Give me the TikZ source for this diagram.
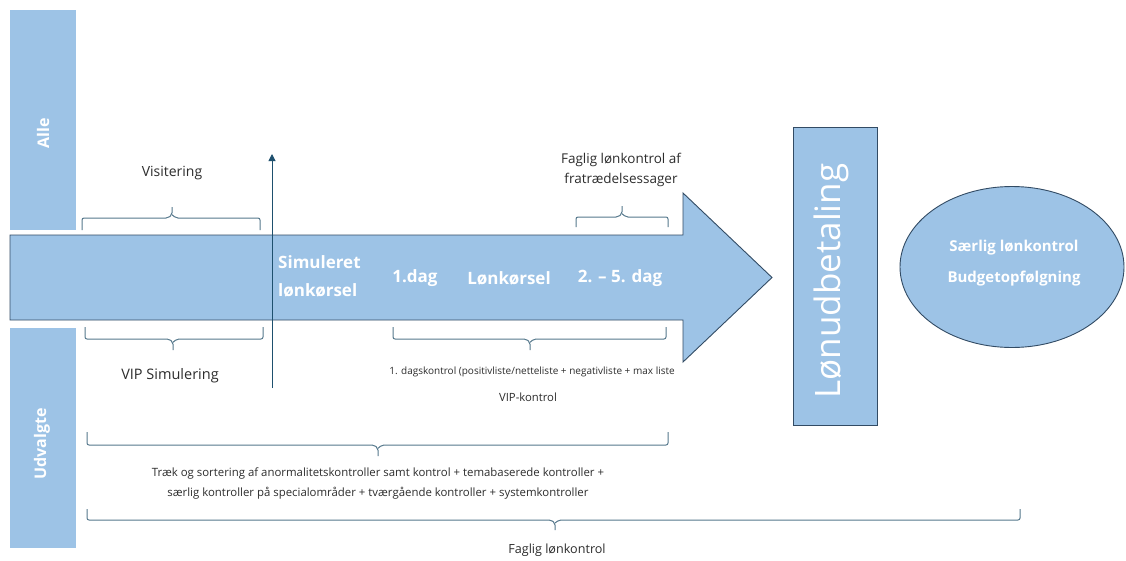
\documentclass[tikz,border=0pt]{standalone}
\usepackage{fontspec}
\setmainfont{Open Sans}
\usetikzlibrary{arrows.meta,shapes.geometric}
\definecolor{fillblue}{RGB}{157,195,230}
\definecolor{edgec}{RGB}{50,75,100}
\definecolor{bracec}{RGB}{85,120,140}
\definecolor{varrowc}{RGB}{30,80,110}
\definecolor{txtc}{RGB}{45,45,45}
\newcommand\wordbrace[6]{%
  \draw[wbrace] (#1,#4) -- (#1,#5) -- ({#3-4},#5) -- (#3,{#5+0.3*(#6-#5)}) -- (#3,#6);
  \draw[wbrace] (#2,#4) -- (#2,#5) -- ({#3+4},#5) -- (#3,{#5+0.3*(#6-#5)});
}
\begin{document}
\begin{tikzpicture}[x=1pt,y=-1pt,
  sidebar/.style={fill=fillblue, draw=none, minimum width=66pt, minimum height=220pt, inner sep=0pt},
  sidetext/.style={rotate=90, text=white, inner sep=0pt, font=\bfseries\fontsize{16}{18}\selectfont},
  lbl/.style={text=txtc, font=\fontsize{14}{16}\selectfont, align=center, inner sep=0pt},
  intext/.style={text=white, font=\bfseries\fontsize{17}{20}\selectfont, inner sep=0pt},
  wbrace/.style={draw=bracec, line width=1pt, rounded corners=2pt},
  bigarrow/.style={fill=fillblue, draw=edgec, line width=0.9pt, line join=miter},
  varrow/.style={draw=varrowc, line width=1pt, -{Triangle[length=7pt,width=7pt]}}
]
\useasboundingbox (0,0) rectangle (1126,560);
\fill[white] (0,0) rectangle (1126,560);

% side bars
\node[sidebar] (alle) at (43,120) {};
\node[sidetext] (allet) at (43,133) {Alle};
\node[sidebar] (udv) at (43,438) {};
\node[sidetext] (udvt) at (42,444) {Udvalgte};

% big arrow
\draw[bigarrow] (10,235) -- (683,235) -- (683,193) -- (772,277.5) -- (683,362) -- (683,320) -- (10,320) -- cycle;

% vertical arrow
\coordinate (vbot) at (272,388);
\coordinate (vtop) at (272,154);
\draw[varrow] (vbot) -- (vtop);

% texts in arrow
\node[intext, anchor=west, align=left, font=\bfseries\fontsize{17}{28}\selectfont] (sim) at (278,276) {Simuleret\\lønkørsel};
\node[intext] (d1) at (415,278) {1.dag};
\node[intext] (lk) at (509,278) {Lønkørsel};
\node[intext] (d25) at (620,278) {2. – 5. dag};

% Lønudbetaling
\node[fill=fillblue, draw=edgec, line width=0.9pt, rotate=90, minimum width=298pt, minimum height=84pt, inner sep=0pt] (lon) at (835,276) {};
\node[rotate=90, text=white, inner sep=0pt, font=\fontsize{35}{38}\selectfont] (lont) at (831,281) {Lønudbetaling};

% ellipse
\node[ellipse, fill=fillblue, draw=edgec, line width=0.9pt, minimum width=224pt, minimum height=161pt, inner sep=0pt] (ell) at (1012,267) {};
\node[text=white, font=\bfseries\fontsize{15}{31}\selectfont, align=center, inner sep=0pt] (ellt) at (1014,263) {Særlig lønkontrol\\Budgetopfølgning};

% labels
\node[lbl] (visit) at (172,173) {Visitering};
\node[lbl, font=\fontsize{14.5}{16}\selectfont] (vipsim) at (170,376) {VIP Simulering};
\node[lbl, font=\fontsize{13.5}{20}\selectfont] (fratr) at (621,170) {Faglig lønkontrol af\\fratrædelsessager};
\node[lbl, font=\fontsize{10}{12}\selectfont] (dags) at (532,372) {1. dagskontrol (positivliste/netteliste + negativliste + max liste};
\node[lbl, font=\fontsize{11.3}{13}\selectfont] (vipk) at (528,397) {VIP-kontrol};
\node[lbl, font=\fontsize{11.4}{20}\selectfont] (traek) at (378,483) {Træk og sortering af anormalitetskontroller samt kontrol + temabaserede kontroller +\\særlig kontroller på specialområder + tværgående kontroller + systemkontroller};
\node[lbl, font=\fontsize{12.6}{14}\selectfont] (faglig) at (557,550) {Faglig lønkontrol};

% braces
\wordbrace{82}{260}{172}{230}{218}{207}
\wordbrace{85}{263}{173}{327}{339}{350}
\wordbrace{576}{668}{622}{227}{217}{206}
\wordbrace{393}{666}{530}{327}{339}{350}
\wordbrace{87}{668}{378}{432}{445}{456}
\wordbrace{87}{1020}{555}{509}{520}{530}
\end{tikzpicture}
\end{document}
